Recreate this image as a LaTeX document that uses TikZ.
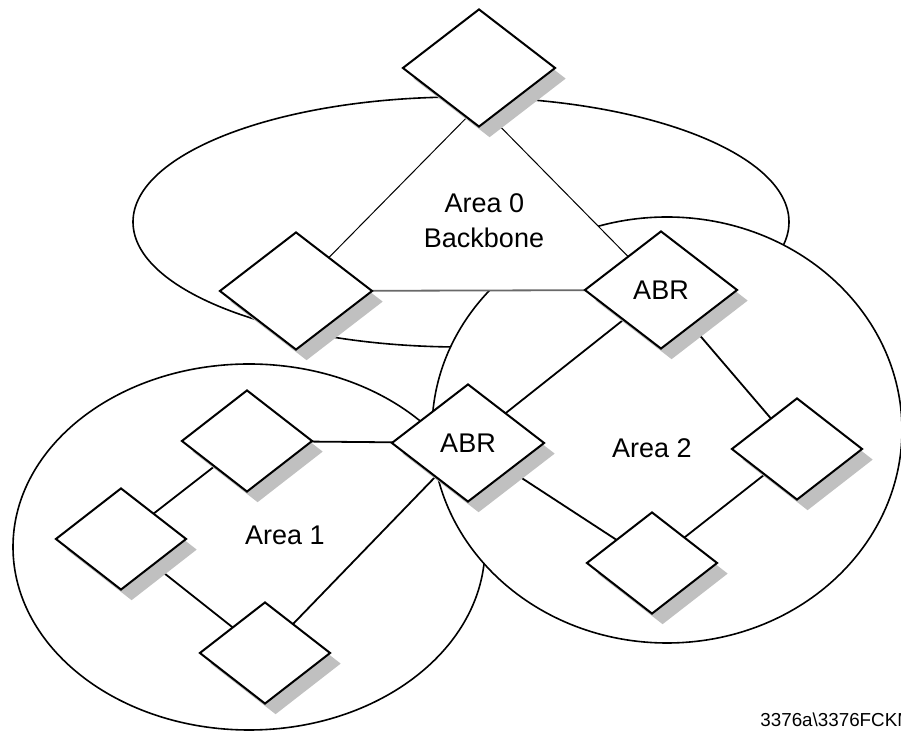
\documentclass[tikz,border=0pt]{standalone}
\usepackage{fontspec}
\setmainfont{Liberation Sans}
\usetikzlibrary{shapes.geometric,shadows}
\definecolor{shadowgray}{RGB}{192,192,192}
\definecolor{linkgray}{RGB}{105,105,105}
\pgfdeclarelayer{areas}
\pgfdeclarelayer{links}
\pgfsetlayers{areas,links,main}

\begin{document}
\begin{tikzpicture}[x=0.5pt, y=-0.5pt,
    router/.style={diamond, draw, line width=1pt, fill=white, inner sep=0pt,
        minimum width=65.5pt, minimum height=51pt,
        drop shadow={shadow xshift=5.3pt, shadow yshift=-5.3pt, fill=shadowgray, opacity=1}},
    bigrouter/.style={router, minimum width=76.5pt, minimum height=59pt},
    area/.style={draw, fill=white, line width=0.8pt},
    link/.style={line width=0.9pt},
    bblink/.style={line width=0.5pt},
    font=\fontsize{13.5}{16}\selectfont]
  \useasboundingbox (0,0) rectangle (901,731);

  % routers
  \node[bigrouter] (r0top) at (479,68) {};
  \node[bigrouter] (r0left) at (296,291) {};
  \node[bigrouter] (abrup) at (661,290) {ABR};
  \node[bigrouter] (abrlow) at (468,443) {ABR};
  \node[router] (r1top) at (247,441) {};
  \node[router] (r1left) at (121,539) {};
  \node[router] (r1bot) at (265,653) {};
  \node[router] (r2right) at (797,449) {};
  \node[router] (r2bot) at (652,563) {};

  % labels
  \node[anchor=base] (lbarea0) at (484.5,213) {Area 0};
  \node[anchor=base] (lbbackbone) at (484,248) {Backbone};
  \node[anchor=base] (lbarea1) at (285,545) {Area 1};
  \node[anchor=base] (lbarea2) at (652,458) {Area 2};
  \node[anchor=base west, inner sep=0pt, font=\fontsize{9.4}{11}\selectfont] (figid)
       at (760,727) {3376a\textbackslash 3376FCKM};

  \begin{pgfonlayer}{areas}
    \draw[area] (249,547) ellipse [x radius=236, y radius=183];
    \draw[area] (461,222) ellipse [x radius=328, y radius=125];
    \draw[area] (667,430) ellipse [x radius=235, y radius=213];
  \end{pgfonlayer}

  \begin{pgfonlayer}{links}
    \coordinate (hub) at ([yshift=-18.5pt]r0top.center);
    \fill[white] (hub) -- (abrup.center) -- (r0left.center) -- cycle;
    \draw[bblink] (r0left.center) -- (hub) -- (abrup.center);
    \draw[link, linkgray] (r0left.center) -- (abrup.center);
    \draw[link] (abrup.center) -- (abrlow.center);
    \draw[link] (abrup.center) -- (r2right.center);
    \draw[link] (r2right.center) -- (r2bot.center);
    \draw[link] (abrlow.center) -- (r2bot.center);
    \draw[link] (abrlow.center) -- (r1top.center);
    \draw[link] (r1top.center) -- (r1left.center);
    \draw[link] (r1left.center) -- (r1bot.center);
    \draw[link] (r1bot.center) -- (abrlow.center);
  \end{pgfonlayer}
\end{tikzpicture}
\end{document}
